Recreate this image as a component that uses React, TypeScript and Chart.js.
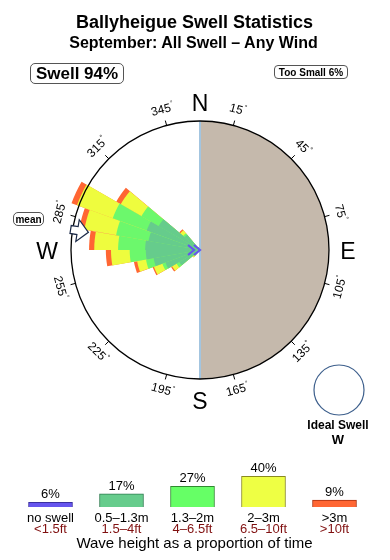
import React, { useEffect, useRef } from "react";
import { Chart, registerables } from "chart.js";
Chart.register(...registerables);

// ---------- data ----------
// swell direction sectors (compass degrees, 10° bins centred on these values)
const SECTOR_DIRS = [225, 235, 245, 255, 265, 275, 285, 295, 305, 315, 325];
// share of time per sector and wave-height band (radial units, circle = 20)
const SWELL_05_13 = [0.9, 3.7, 5.7, 7.3, 8.4, 8.5, 8.1, 8.8, 7.4, 3.1, 0.5];
const SWELL_13_2 = [0.3, 0.5, 0.5, 1.2, 2.5, 4.2, 5.1, 5.6, 3.1, 0.3, 0];
const SWELL_2_3 = [0.3, 0.8, 1.4, 1.4, 2.9, 3.7, 5.0, 5.9, 3.7, 0.6, 0];
const SWELL_3P = [0, 0.2, 0.2, 0.5, 0.8, 0.8, 0.8, 0.9, 0.8, 0.2, 0];
const RADIAL_MAX = 20;
const MEAN_DIR = 279;
const DEGREE_TICKS = [15, 45, 75, 105, 135, 165, 195, 225, 255, 285, 315, 345];
const COMPASS = ["N", "E", "S", "W"];

// legend
const LEGEND_PCT = [6, 17, 27, 40, 9];
const LEGEND_M = ["no swell", "0.5\u20131.3m", "1.3\u20132m", "2\u20133m", ">3m"];
const LEGEND_FT = ["<1.5ft", "1.5\u20134ft", "4\u20136.5ft", "6.5\u201310ft", ">10ft"];

// ---------- styles ----------
const C_PURPLE = "#6655ee";
const C_DKGREEN = "#66cc8c";
const C_LTGREEN = "#6cf86c";
const C_YELLOW = "#eefc3e";
const C_ORANGE = "#ff6633";
const LEGEND_FILL = [C_PURPLE, C_DKGREEN, "#66ff66", "#eeff44", C_ORANGE];
const LEGEND_BORDER = ["#3a2fa0", "#2f7d50", "#2f8a2f", "#8a8a20", "#a83010"];
const BEIGE = "#c5b9ac";
const FONT = "'Liberation Sans', Arial, Helvetica, sans-serif";

const BIN_COUNT = 36;
const BIN_LABELS = Array.from({ length: BIN_COUNT }, (_, i) => String(i * 10 + 5));

function toBins(vals: number[]): number[] {
  const out = new Array(BIN_COUNT).fill(0);
  SECTOR_DIRS.forEach((d, i) => {
    out[Math.floor(d / 10)] = vals[i];
  });
  return out;
}
function cumulative(...bands: number[][]): number[] {
  return bands[0].map((_, i) => bands.reduce((s, b) => s + b[i], 0));
}

const roseDeco = {
  id: "roseDeco",
  beforeDatasetsDraw(chart: any) {
    const s = chart.scales.r;
    const { ctx } = chart;
    const cx = s.xCenter, cy = s.yCenter, R = s.drawingArea;
    ctx.save();
    ctx.fillStyle = BEIGE;
    ctx.beginPath();
    ctx.moveTo(cx, cy - R);
    ctx.arc(cx, cy, R, -Math.PI / 2, Math.PI / 2);
    ctx.closePath();
    ctx.fill();
    ctx.strokeStyle = "#a3c5e0";
    ctx.lineWidth = 2;
    ctx.beginPath();
    ctx.moveTo(cx, cy - R);
    ctx.lineTo(cx, cy + R);
    ctx.stroke();
    ctx.restore();
  },
  afterDatasetsDraw(chart: any) {
    const s = chart.scales.r;
    const { ctx } = chart;
    const cx = s.xCenter, cy = s.yCenter, R = s.drawingArea;
    const pt = (deg: number, r: number, off = 0) => {
      const a = (deg * Math.PI) / 180;
      return [cx + r * Math.sin(a) + off * Math.cos(a), cy - r * Math.cos(a) + off * Math.sin(a)];
    };
    ctx.save();
    // circle
    ctx.strokeStyle = "#000";
    ctx.lineWidth = 1.3;
    ctx.beginPath();
    ctx.arc(cx, cy, R, 0, Math.PI * 2);
    ctx.stroke();
    // ticks + degree labels
    ctx.lineWidth = 1;
    DEGREE_TICKS.forEach((d) => {
      const [x1, y1] = pt(d, R);
      const [x2, y2] = pt(d, R + 5);
      ctx.beginPath();
      ctx.moveTo(x1, y1);
      ctx.lineTo(x2, y2);
      ctx.stroke();
      const [lx, ly] = pt(d, R + 16);
      let rot = d % 180;
      if (rot > 90) rot -= 180;
      ctx.save();
      ctx.translate(lx, ly);
      ctx.rotate((rot * Math.PI) / 180);
      ctx.fillStyle = "#000";
      ctx.font = `12px ${FONT}`;
      const txt = String(d);
      const w = ctx.measureText(txt).width;
      ctx.font = `7px ${FONT}`;
      const wd = ctx.measureText("\u00b0").width;
      const x0 = -(w + wd) / 2;
      ctx.textBaseline = "middle";
      ctx.textAlign = "left";
      ctx.font = `12px ${FONT}`;
      ctx.fillText(txt, x0, 0);
      ctx.font = `7px ${FONT}`;
      ctx.fillText("\u00b0", x0 + w + 0.5, -4);
      ctx.restore();
    });
    // compass letters
    ctx.fillStyle = "#000";
    ctx.font = `23px ${FONT}`;
    ctx.textAlign = "center";
    ctx.textBaseline = "alphabetic";
    const pos: Record<string, [number, number]> = {
      N: [cx, cy - R - 10],
      S: [cx, cy + R + 30],
      E: [cx + R + 19, cy + 9],
      W: [cx - R - 24, cy + 9],
    };
    COMPASS.forEach((k) => ctx.fillText(k, pos[k][0], pos[k][1]));
    // mean arrow
    const poly = [
      [R - 16, 0], [R - 5, 11], [R - 5, 4], [R + 2, 4], [R + 2, -4], [R - 5, -4], [R - 5, -11],
    ].map(([r, o]) => pt(MEAN_DIR, r, o));
    ctx.beginPath();
    poly.forEach(([x, y], i) => (i ? ctx.lineTo(x, y) : ctx.moveTo(x, y)));
    ctx.closePath();
    ctx.fillStyle = "#fff";
    ctx.fill();
    ctx.strokeStyle = "#1c2a48";
    ctx.lineWidth = 1.2;
    ctx.stroke();
    // no-swell marker at centre
    ctx.strokeStyle = C_PURPLE;
    ctx.lineWidth = 2.2;
    [0, 6].forEach((r0) => {
      const a = pt(270, r0 + 6, 5), b = pt(270, r0, 0), c = pt(270, r0 + 6, -5);
      ctx.beginPath();
      ctx.moveTo(a[0], a[1]);
      ctx.lineTo(b[0], b[1]);
      ctx.lineTo(c[0], c[1]);
      ctx.stroke();
    });
    // ideal swell circle
    ctx.strokeStyle = "#3d5f8c";
    ctx.lineWidth = 1.2;
    ctx.beginPath();
    ctx.arc(cx + 139, cy + 140, 25, 0, Math.PI * 2);
    ctx.stroke();
    ctx.restore();
  },
};

const legendDeco = {
  id: "legendDeco",
  afterDatasetsDraw(chart: any) {
    const { ctx, chartArea } = chart;
    const meta = chart.getDatasetMeta(0);
    ctx.save();
    ctx.textAlign = "center";
    ctx.textBaseline = "alphabetic";
    meta.data.forEach((bar: any, i: number) => {
      ctx.fillStyle = "#000";
      ctx.font = `13px ${FONT}`;
      ctx.fillText(LEGEND_PCT[i] + "%", bar.x, bar.y - 4);
      ctx.fillText(LEGEND_M[i], bar.x, chartArea.bottom + 15);
      ctx.fillStyle = "#801010";
      ctx.fillText(LEGEND_FT[i], bar.x, chartArea.bottom + 26);
    });
    ctx.restore();
  },
};

const abs = (o: React.CSSProperties): React.CSSProperties => ({ position: "absolute", ...o });

export default function App() {
  const roseRef = useRef<HTMLCanvasElement>(null);
  const legRef = useRef<HTMLCanvasElement>(null);

  useEffect(() => {
    const c1 = SWELL_05_13;
    const c2 = cumulative(SWELL_05_13, SWELL_13_2);
    const c3 = cumulative(SWELL_05_13, SWELL_13_2, SWELL_2_3);
    const c4 = cumulative(SWELL_05_13, SWELL_13_2, SWELL_2_3, SWELL_3P);
    const rose = new Chart(roseRef.current!, {
      type: "polarArea",
      data: {
        labels: BIN_LABELS,
        datasets: [
          { label: "0.5–1.3m", data: toBins(c1), backgroundColor: C_DKGREEN, borderWidth: 0, clip: false } as any,
          { label: "1.3–2m", data: toBins(c2), backgroundColor: C_LTGREEN, borderWidth: 0, clip: false } as any,
          { label: "2–3m", data: toBins(c3), backgroundColor: C_YELLOW, borderWidth: 0, clip: false } as any,
          { label: ">3m", data: toBins(c4), backgroundColor: C_ORANGE, borderWidth: 0, clip: false } as any,
        ],
      },
      options: {
        responsive: false,
        animation: false,
        events: [],
        layout: { padding: { left: 71, right: 61, top: 121, bottom: 181 } },
        plugins: { legend: { display: false }, tooltip: { enabled: false } },
        scales: {
          r: {
            min: 0,
            max: RADIAL_MAX,
            startAngle: 0,
            ticks: { display: false },
            grid: { display: false },
            angleLines: { display: false },
            pointLabels: { display: false },
          },
        },
      } as any,
      plugins: [roseDeco],
    });

    const legend = new Chart(legRef.current!, {
      type: "bar",
      data: {
        labels: LEGEND_M,
        datasets: [
          {
            data: LEGEND_PCT,
            backgroundColor: LEGEND_FILL,
            borderColor: LEGEND_BORDER,
            borderWidth: 1,
            barThickness: 44,
          } as any,
        ],
      },
      options: {
        responsive: false,
        animation: false,
        events: [],
        layout: { padding: { left: 15, right: 20, top: 27, bottom: 53 } },
        plugins: { legend: { display: false }, tooltip: { enabled: false } },
        scales: {
          x: { display: false },
          y: { display: false, min: 0, max: 52 },
        },
      } as any,
      plugins: [legendDeco],
    });
    return () => {
      rose.destroy();
      legend.destroy();
    };
  }, []);

  const box: React.CSSProperties = {
    border: "1px solid #555",
    borderRadius: 5,
    display: "flex",
    alignItems: "center",
    justifyContent: "center",
    fontWeight: "bold",
    boxSizing: "border-box",
    background: "#fff",
    color: "#000",
  };

  return (
    <div style={abs({ left: 0, top: 0, width: 390, height: 560, background: "#fff", overflow: "hidden", fontFamily: FONT })}>
      <canvas ref={roseRef} width={390} height={560} style={abs({ left: 0, top: 0 })} />
      <canvas ref={legRef} width={390} height={120} style={abs({ left: 0, top: 440 })} />
      <div style={abs({ left: 0, top: 12.8, width: 389, textAlign: "center", fontSize: 18, lineHeight: "18px", fontWeight: "bold", color: "#000" })}>
        Ballyheigue Swell Statistics
      </div>
      <div style={abs({ left: 0, top: 34.5, width: 387, textAlign: "center", fontSize: 16, lineHeight: "16px", fontWeight: "bold", color: "#000" })}>
        September: All Swell – Any Wind
      </div>
      <div style={abs({ ...box, left: 30, top: 63, width: 94, height: 21, fontSize: 17 })}>Swell 94%</div>
      <div style={abs({ ...box, left: 274, top: 65, width: 74, height: 14, fontSize: 10, borderRadius: 4 })}>Too Small 6%</div>
      <div style={abs({ ...box, left: 13, top: 212, width: 31, height: 14, fontSize: 10, borderRadius: 5 })}>mean</div>
      <div style={abs({ left: 288, top: 418.8, width: 100, textAlign: "center", fontSize: 12, lineHeight: "12px", fontWeight: "bold", color: "#000" })}>
        Ideal Swell
      </div>
      <div style={abs({ left: 288, top: 433, width: 100, textAlign: "center", fontSize: 13, lineHeight: "13px", fontWeight: "bold", color: "#000" })}>
        W
      </div>
      <div style={abs({ left: 0, top: 535.3, width: 389, textAlign: "center", fontSize: 15, lineHeight: "15px", color: "#000" })}>
        Wave height as a proportion of time
      </div>
    </div>
  );
}
